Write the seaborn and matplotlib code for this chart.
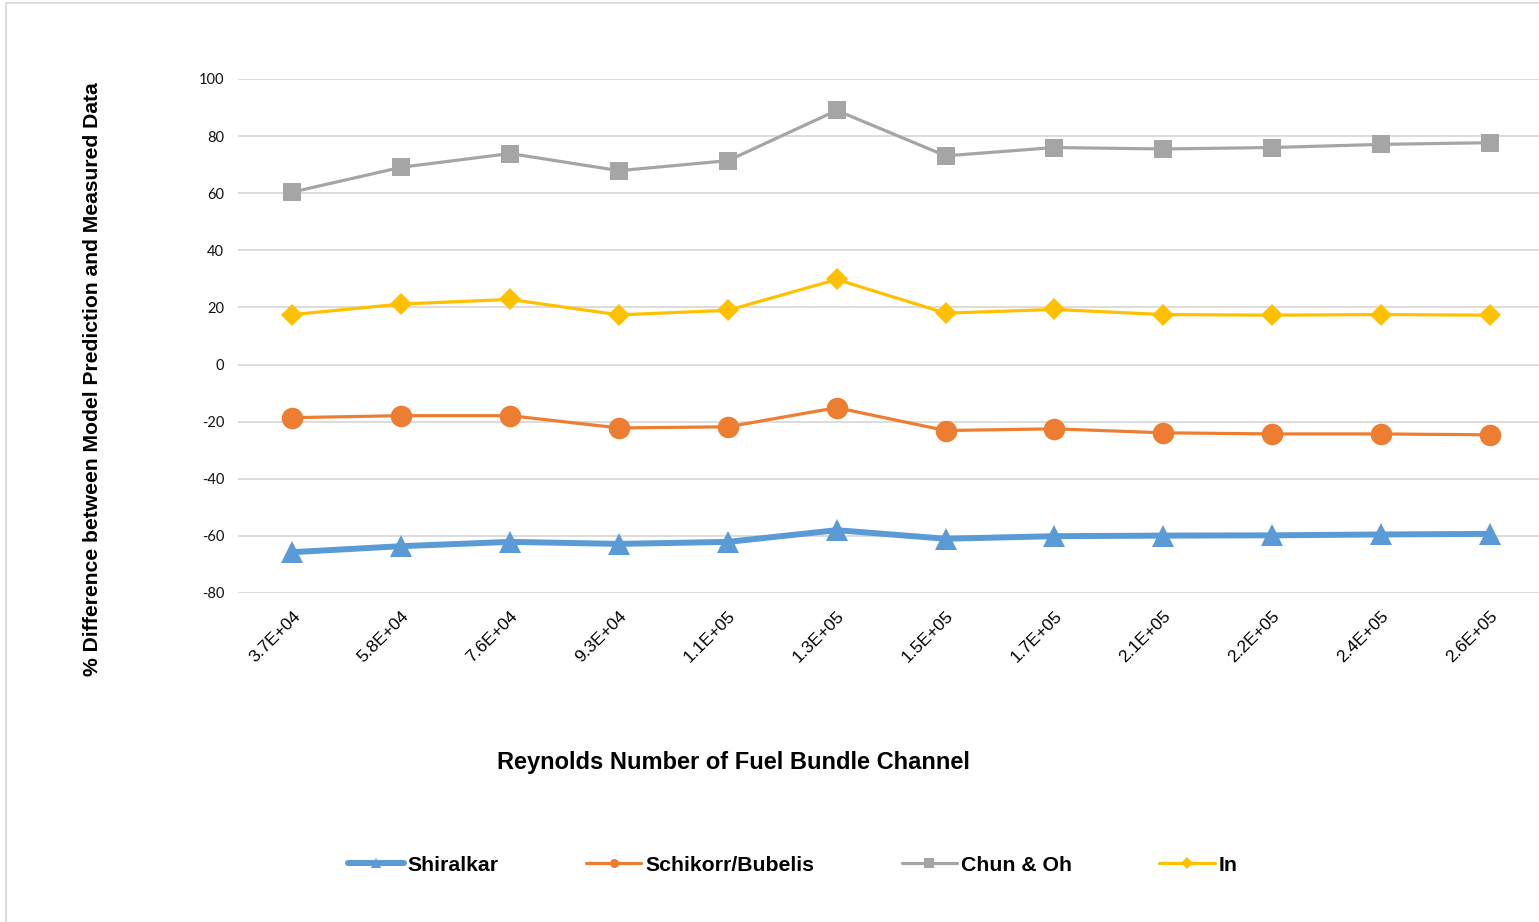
import numpy as np
import pandas as pd
import matplotlib
matplotlib.use("Agg")
import matplotlib.pyplot as plt
from matplotlib.lines import Line2D
from matplotlib.patches import Rectangle
import seaborn as sns

# Reynolds number of the fuel bundle channel (category labels)
reynolds = ["3.7E+04", "5.8E+04", "7.6E+04", "9.3E+04", "1.1E+05", "1.3E+05",
            "1.5E+05", "1.7E+05", "2.1E+05", "2.2E+05", "2.4E+05", "2.6E+05"]

# % difference between model prediction and measured data
shiralkar = [-65.7, -63.6, -62.1, -62.8, -62.1, -58.0,
             -61.0, -60.1, -59.9, -59.8, -59.5, -59.3]
schikorr_bubelis = [-18.6, -17.9, -17.9, -22.2, -21.8, -15.1,
                    -23.1, -22.5, -23.9, -24.3, -24.3, -24.6]
chun_oh = [60.4, 69.1, 73.9, 67.9, 71.4, 89.0,
           73.1, 76.0, 75.5, 76.0, 77.1, 77.7]
in_model = [17.5, 21.2, 22.8, 17.4, 19.0, 29.8,
            18.0, 19.3, 17.5, 17.3, 17.5, 17.3]

series_names = ["Shiralkar", "Schikorr/Bubelis", "Chun & Oh", "In"]
series_values = [shiralkar, schikorr_bubelis, chun_oh, in_model]
y_ticks = [-80, -60, -40, -20, 0, 20, 40, 60, 80, 100]

colors = ["#5B9BD5", "#ED7D31", "#A5A5A5", "#FFC000"]
markers = ["^", "o", "s", "D"]
marker_sizes = [15.5, 15.5, 13.5, 11.5]
line_widths = [4.3, 2.3, 2.3, 2.3]

sns.set_theme(style="white")
plt.rcParams["font.family"] = ["Liberation Sans", "DejaVu Sans"]
plt.rcParams["text.color"] = "black"

W, H = 1539, 922
fig = plt.figure(figsize=(W / 100, H / 100), dpi=100)
fig.patch.set_facecolor("white")

# plot area in pixel terms: left 238, right edge of figure, top 79, bottom 593
ax = fig.add_axes([238 / W, (H - 593) / H, (W - 238) / W, (593 - 79) / H])

pos = np.arange(len(reynolds))
for name, vals, c, m, ms, lw in zip(series_names, series_values, colors,
                                    markers, marker_sizes, line_widths):
    df = pd.DataFrame({"pos": pos, "value": vals})
    sns.lineplot(data=df, x="pos", y="value", ax=ax, color=c, lw=lw,
                 marker=m, markersize=ms, markeredgewidth=0,
                 markeredgecolor=c, label=name, legend=False, zorder=3)

ax.set_xlim(-0.5, (W - 292) / 108.9)
ax.set_ylim(-80, 100)
ax.set_yticks(y_ticks)
ax.set_yticklabels([str(v) for v in y_ticks], fontsize=10.5, color="#111111",
                   family=["Lato", "Liberation Sans"])
ax.set_xticks(pos)
ax.set_xticklabels(reynolds, rotation=45, ha="right", va="top",
                   rotation_mode="anchor", fontsize=12.5, color="black")
ax.tick_params(axis="y", length=0, pad=10)
ax.tick_params(axis="x", length=0, pad=11)
ax.grid(axis="y", color="#d9d9d9", lw=1.3, zorder=0)
ax.grid(axis="x", visible=False)
for sp in ax.spines.values():
    sp.set_visible(False)
ax.set_xlabel("")
ax.set_ylabel("")

# axis titles
fig.text(733 / W, 1 - 763 / H, "Reynolds Number of Fuel Bundle Channel",
         ha="center", va="center", fontsize=17, fontweight="bold", color="black")
fig.text(93 / W, 1 - 379 / H,
         "% Difference between Model Prediction and Measured Data",
         ha="center", va="center", rotation=90, fontsize=15.2,
         fontweight="bold", color="black")

# legend along the bottom
handles = [Line2D([0], [0], color=c, lw=lw, marker=m, markersize=6.5,
                  markeredgewidth=0)
           for c, m, lw in zip(colors, markers, line_widths)]
leg = fig.legend(handles, series_names, loc="center",
                 bbox_to_anchor=(793 / W, 1 - 865 / H), ncol=4, frameon=False,
                 prop={"size": 15.3, "weight": "bold"}, handlelength=2.6,
                 handletextpad=0.2, columnspacing=4.1, borderaxespad=0,
                 labelcolor="black")

# thin chart-area border
fig.add_artist(Rectangle((6 / W, -0.2), 1.2, (H - 3) / H + 0.2,
                         transform=fig.transFigure, fill=False,
                         ec="#d9d9d9", lw=1.3))

fig.savefig("out.png", dpi=100, facecolor="white")
